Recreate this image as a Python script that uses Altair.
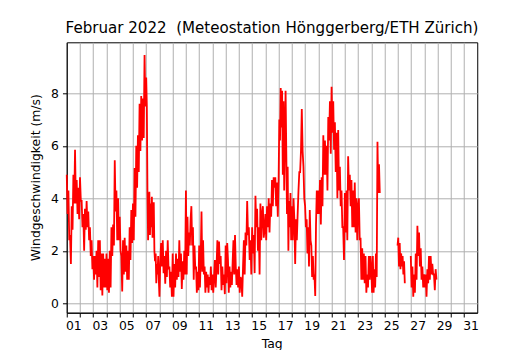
import altair as alt
import pandas as pd

# Wind speed (m/s), listed per day of February 2022
d01 = [4.9, 3.4, 4.3, 2.4, 2.6, 1.5, 3.7, 2.8, 4.9, 3.8, 5.85, 3.8, 4.7, 3.4, 4.4, 3.2]
d02 = [4.8, 3.9, 3.9, 2.9, 3.4, 2.0, 3.6, 2.8, 3.9, 2.9, 3.5, 2.4, 2.9, 1.8, 2.4, 1.3]
d03 = [1.8, 0.9, 1.8, 1.1, 2.0, 0.6, 2.4, 1.0, 2.4, 0.5, 1.9, 0.3, 1.9, 0.6, 1.7, 0.6]
d04 = [1.9, 0.5, 1.7, 0.4, 2.0, 0.6, 2.9, 1.8, 3.0, 2.2, 5.45, 3.5, 4.3, 2.4, 4.0, 2.4]
d05 = [3.3, 2.0, 1.8, 0.45, 2.4, 1.1, 2.5, 1.2, 2.2, 0.9, 2.0, 0.9, 2.9, 1.65, 3.55, 2.3]
d06 = [3.8, 2.4, 5.15, 3.3, 6.0, 4.4, 6.4, 5.0, 7.6, 5.8, 7.9, 6.2, 7.8, 6.3, 9.46, 7.5]
d07 = [8.6, 7.5, 4.2, 2.4, 3.6, 4.25, 2.6, 3.8, 2.9, 4.06, 2.5, 3.5, 3.85, 2.0, 1.6, 1.9, 0.76, 1.5, 1.1, 1.8, 0.9]
d08 = [0.25, 1.6, 2.3, 1.4, 2.4, 1.15, 1.8, 0.75, 2.0, 1.0, 2.4, 1.3, 1.4, 0.6, 1.2, 0.25]
d09 = [1.9, 0.25, 1.5, 0.6, 1.9, 0.9, 1.7, 1.0, 2.4, 1.2, 1.9, 0.55, 1.6, 0.9, 2.0, 1.1]
d10 = [4.3, 1.1, 3.3, 1.8, 2.7, 2.2, 3.2, 3.7, 2.2, 2.9, 0.9, 2.2, 1.3, 1.4, 0.4, 1.2, 0.5]
d11 = [2.2, 0.6, 1.8, 3.5, 1.2, 2.4, 1.1, 1.4, 0.4, 1.2, 0.6, 1.1, 0.4, 1.0, 0.7, 1.4, 0.5]
d12 = [1.1, 0.4, 1.0, 1.65, 0.6, 1.4, 2.4, 1.1, 2.35, 1.5, 1.8, 0.5, 1.4, 0.7, 1.1, 0.35]
d13 = [2.2, 0.76, 2.3, 1.65, 0.4, 1.4, 0.6, 1.2, 0.7, 1.6, 2.4, 1.1, 2.6, 1.4, 0.7, 1.3, 0.6]
d14 = [1.4, 0.4, 1.0, 0.9, 0.25, 1.4, 2.4, 1.1, 2.7, 2.2, 3.9, 2.6, 2.9, 1.65, 2.4, 1.1]
d15 = [2.9, 1.9, 2.6, 1.15, 4.1, 2.9, 3.6, 2.0, 2.9, 1.1, 3.8, 2.4, 3.4, 3.7, 2.5, 2.8]
d16 = [3.4, 2.4, 3.7, 2.9, 4.0, 2.7, 3.8, 3.3, 4.7, 3.7, 4.8, 4.4, 4.8, 3.7, 4.6, 3.3]
d17 = [4.7, 7.0, 6.2, 8.2, 6.7, 8.1, 4.9, 7.7, 4.3, 6.2, 8.1, 5.8, 3.4, 5.2, 2.0, 3.9, 2.9, 4.2, 2.4]
d18 = [3.7, 2.4, 4.0, 3.2, 1.5, 3.2, 2.4, 3.4, 4.3, 5.0, 5.0, 5.8, 7.4, 5.8, 5.2, 4.0]
d19 = [3.7, 2.9, 3.2, 1.9, 2.9, 1.4, 3.55, 2.4, 2.2, 1.0, 1.8, 0.9, 1.1, 0.28, 3.0, 4.3, 3.4]
d20 = [4.3, 3.4, 4.7, 3.0, 4.8, 3.7, 6.4, 4.9, 6.2, 4.9, 6.0, 4.3, 7.1, 6.2, 7.7, 5.7]
d21 = [8.25, 6.5, 7.7, 5.85, 6.9, 5.0, 6.5, 4.0, 6.6, 4.3, 5.2, 3.7, 4.3, 2.9, 2.9, 1.65]
d22 = [4.2, 2.7, 4.3, 2.4, 5.6, 4.3, 4.9, 3.7, 4.7, 2.9, 4.3, 2.9, 4.6, 2.7, 4.0, 2.4]
d23 = [3.7, 4.0, 2.4, 2.5, 0.9, 2.1, 0.9, 1.9, 0.76, 1.8, 0.4, 1.1, 0.6, 1.8, 0.9, 1.8]
# partial records (gaps in the station data)
d24 = [1.3, 0.4, 1.8, 0.4, 1.3, 0.6, 1.9, 1.0, 6.15, 4.2, 5.3, 4.2]
d24_span = (24.0, 24.64)
d26 = [2.2, 2.5, 1.4, 2.3, 1.3, 1.9, 1.4, 1.8, 1.1, 1.6, 0.76]
d26_span = (25.98, 26.53)
d27_28 = [1.8, 0.6, 1.4, 0.25, 1.1, 0.4, 1.9, 0.9, 2.95, 1.8, 2.7, 1.4, 2.1, 0.9, 1.4, 0.6,
          1.1, 0.6, 1.1, 0.25, 1.3, 0.76, 1.8, 0.9, 1.8, 1.1, 1.5, 1.1, 1.1, 0.5, 1.3, 0.9]
d27_28_span = (26.98, 28.92)

full_days = [d01, d02, d03, d04, d05, d06, d07, d08, d09, d10, d11, d12, d13, d14, d15,
             d16, d17, d18, d19, d20, d21, d22, d23]

rows = []
for k, vals in enumerate(full_days):
    day = k + 1
    n = len(vals)
    for i, v in enumerate(vals):
        rows.append({"t": day + i / n, "v": v, "seg": "a"})


def add_span(vals, span, seg):
    a, b = span
    n = len(vals)
    for i, v in enumerate(vals):
        rows.append({"t": a + (b - a) * i / (n - 1), "v": v, "seg": seg})


add_span(d24, d24_span, "a")
add_span(d26, d26_span, "b")
add_span(d27_28, d27_28_span, "c")

df = pd.DataFrame(rows)

day_ticks = list(range(1, 32))
y_ticks = [0, 2, 4, 6, 8]

chart = alt.Chart(df).mark_line(color="#ff0000", strokeWidth=1.8).encode(
    x=alt.X(
        "t:Q",
        scale=alt.Scale(domain=[1, 32], nice=False, zero=False),
        axis=alt.Axis(
            values=day_ticks,
            labelExpr="datum.value % 2 == 1 ? (datum.value < 10 ? '0' + datum.value : '' + datum.value) : ''",
            labelOffset=6.6,
            labelPadding=3,
            labelFlush=False,
            labelOverlap=False,
            title="Tag",
            titleX=205,
            titleY=31,
            titleBaseline="middle",
        ),
    ),
    y=alt.Y(
        "v:Q",
        scale=alt.Scale(domain=[-0.358, 9.943], nice=False, zero=False),
        axis=alt.Axis(
            values=y_ticks,
            labelPadding=4,
            title="Windgeschwindigkeit (m/s)",
            titleAngle=270,
            titleX=-31,
            titleY=135,
            titleBaseline="middle",
            titleAlign="center",
        ),
    ),
    detail="seg:N",
).properties(
    width=410.5,
    height=270.4,
    padding={"left": 58.75, "top": 34.3, "right": 40, "bottom": 46},
    autosize=alt.AutoSizeParams(type="none"),
    title=alt.TitleParams(
        text="Februar 2022\u00a0 (Meteostation Hönggerberg/ETH Zürich)",
        anchor="middle",
        baseline="alphabetic",
        offset=9,
        dy=15,
    ),
).configure_axis(
    grid=True,
    gridColor="#b0b0b0",
    gridWidth=1,
    domainColor="black",
    domainWidth=1,
    tickColor="black",
    tickSize=4.3,
    tickWidth=1,
    labelFont="DejaVu Sans",
    labelFontSize=12.4,
    labelColor="black",
    titleFont="DejaVu Sans",
    titleFontSize=12.4,
    titleFontWeight="normal",
    titleColor="black",
).configure_view(
    stroke="black",
    strokeWidth=1,
).configure_title(
    font="DejaVu Sans",
    fontSize=15.1,
    fontWeight="normal",
    color="black",
)

chart.save("out.html", embed_options={"renderer": "svg", "actions": False})
